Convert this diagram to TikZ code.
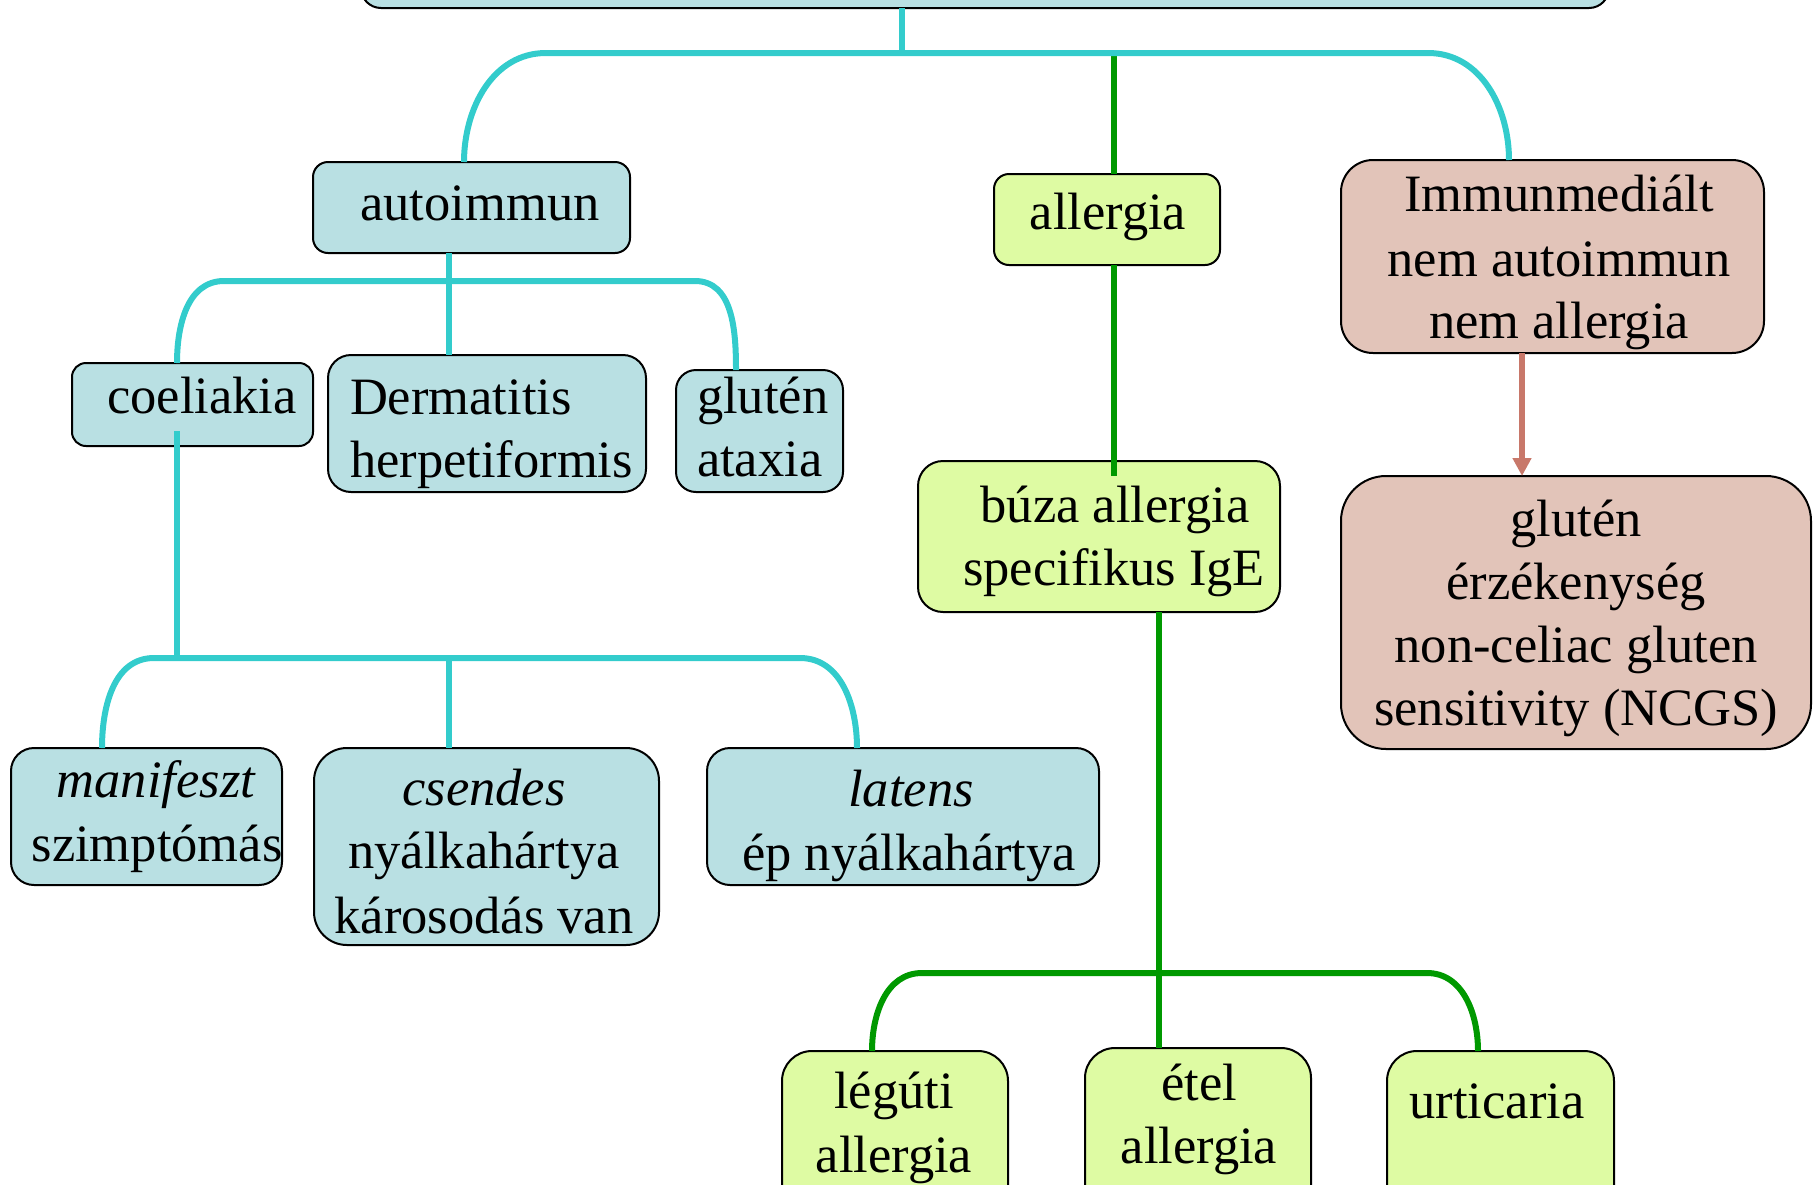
\documentclass[tikz,border=0pt]{standalone}
\usepackage{fontspec}
\setmainfont{Liberation Serif}
\usetikzlibrary{arrows.meta}
\definecolor{tealf}{HTML}{B9E0E3}
\definecolor{greenf}{HTML}{DEFBA3}
\definecolor{pinkf}{HTML}{E2C4B9}
\definecolor{cyl}{HTML}{33CCCC}
\definecolor{grl}{HTML}{009900}
\definecolor{arrc}{HTML}{C8786A}
\newcommand\mybox[7]{%
  \pgfmathsetmacro\cx{(#2+#4)/2}\pgfmathsetmacro\cy{(#3+#5)/2}%
  \pgfmathsetmacro\ww{#4-#2}\pgfmathsetmacro\hh{#5-#3}%
  \node[boxbase,#6,rounded corners=#7pt,minimum width=\ww pt,minimum height=\hh pt] (#1) at (\cx,\cy) {};}
\tikzset{
  boxbase/.style={draw=black,line width=2pt,inner sep=0pt,outer sep=0pt,rectangle},
  tealbox/.style={fill=tealf},
  greenbox/.style={fill=greenf},
  pinkbox/.style={fill=pinkf},
  txt/.style={inner sep=0pt,outer sep=0pt,anchor=base,font=\fontsize{52.5}{63}\selectfont},
  txtl/.style={txt,anchor=base west},
  cy/.style={draw=cyl,line width=6pt},
  gr/.style={draw=grl,line width=6pt},
  arr/.style={draw=arrc,line width=5.5pt,-{Triangle[width=18pt,length=18pt,fill=arrc]}}
}
\begin{document}
\begin{tikzpicture}[x=1pt,y=-1pt]
\useasboundingbox (0,0) rectangle (1820,1184);
\clip (0,0) rectangle (1820,1184);
% boxes
\mybox{top}{361}{-80}{1609}{8}{tealbox}{20}
\mybox{auto}{313}{162}{630}{253}{tealbox}{15}
\mybox{alle}{994}{174}{1220}{265}{greenbox}{15}
\mybox{imm}{1341}{160}{1764}{353}{pinkbox}{32}
\mybox{glut}{1341}{476}{1811}{749}{pinkbox}{45}
\mybox{buza}{918}{461}{1280}{612}{greenbox}{25}
\mybox{coel}{72}{363}{313}{446}{tealbox}{14}
\mybox{derm}{328}{355}{646}{492}{tealbox}{23}
\mybox{atax}{676}{370}{843}{492}{tealbox}{20}
\mybox{mani}{11}{748}{282}{885}{tealbox}{23}
\mybox{csen}{314}{748}{659}{945}{tealbox}{33}
\mybox{late}{707}{748}{1099}{885}{tealbox}{23}
\mybox{legu}{782}{1051}{1008}{1230}{greenbox}{30}
\mybox{etel}{1085}{1048}{1311}{1230}{greenbox}{30}
\mybox{urti}{1387}{1051}{1614}{1230}{greenbox}{30}
% texts
\node[txt] (t1) at (480,220) {autoimmun};
\node[txt] (t2) at (1108,229) {allergia};
\node[txt] (t3a) at (1559,211) {Immunmediált};
\node[txt] (t3b) at (1559,276) {nem autoimmun};
\node[txt] (t3c) at (1559,338) {nem allergia};
\node[txt] (t4a) at (1576,536) {glutén};
\node[txt] (t4b) at (1576,599) {érzékenység};
\node[txt] (t4c) at (1576,662) {non-celiac gluten};
\node[txt] (t4d) at (1576,725) {sensitivity (NCGS)};
\node[txt] (t5a) at (1115,522) {búza allergia};
\node[txt] (t5b) at (1114,585) {specifikus IgE};
\node[txt] (t6) at (202,413) {coeliakia};
\node[txtl] (t7a) at (350,414) {Dermatitis};
\node[txtl] (t7b) at (350,477) {herpetiformis};
\node[txtl] (t8a) at (697,413) {glutén};
\node[txtl] (t8b) at (697,476) {ataxia};
\node[txt] (t9a) at (156,797) {\itshape manifeszt};
\node[txt] (t9b) at (157,861) {szimptómás};
\node[txt] (t10a) at (484,805) {\itshape csendes};
\node[txt] (t10b) at (484,868) {nyálkahártya};
\node[txt] (t10c) at (484,933) {károsodás van};
\node[txt] (t11a) at (911,806) {\itshape latens};
\node[txt] (t11b) at (909,870) {ép nyálkahártya};
\node[txt] (t12a) at (894,1108) {légúti};
\node[txt] (t12b) at (894,1172) {allergia};
\node[txt] (t13a) at (1199,1100) {étel};
\node[txt] (t13b) at (1199,1163) {allergia};
\node[txt] (t14) at (1497,1118) {urticaria};
% junction coordinates
\coordinate (jA) at (902,53);
\coordinate (xa) at (464,0);
\coordinate (xi) at (1509,0);
\coordinate (jAl) at (546,53);
\coordinate (jAr) at (1428,53);
\coordinate (jG) at (1114,53);
\coordinate (gEnd) at (1114,476);
\coordinate (jB) at (449,281);
\coordinate (xc) at (177,0);
\coordinate (xt) at (736,0);
\coordinate (jBl) at (224,281);
\coordinate (jBr) at (695,281);
\coordinate (cStart) at (177,431);
\coordinate (jC) at (177,658);
\coordinate (jCm) at (449,658);
\coordinate (xm) at (102,0);
\coordinate (xl) at (857,0);
\coordinate (jCl) at (154,658);
\coordinate (jCr) at (800,658);
\coordinate (xg) at (1159,0);
\coordinate (xlg) at (872,0);
\coordinate (xur) at (1478,0);
\coordinate (jDl) at (922,973);
\coordinate (jDr) at (1427,973);
\coordinate (xar) at (1522,0);
% green connectors
\draw[gr] (jG) -- (alle.north -| jG);
\draw[gr] (alle.south -| gEnd) -- (gEnd);
\draw[gr] (buza.south -| xg) -- (etel.north -| xg);
\draw[gr] (legu.north -| xlg) to[out=90,in=180] (jDl) -- (jDr) to[out=0,in=90] (urti.north -| xur);
% cyan connectors
\draw[cy] (top.south -| jA) -- (jA);
\draw[cy] (auto.north -| xa) to[out=90,in=180] (jAl) -- (jAr) to[out=0,in=90] (imm.north -| xi);
\draw[cy] (auto.south -| jB) -- (derm.north -| jB);
\draw[cy] (coel.north -| xc) to[out=90,in=180] (jBl) -- (jBr) to[out=0,in=90] (atax.north -| xt);
\draw[cy] (cStart) -- (jC);
\draw[cy] (jCm) -- (csen.north -| jCm);
\draw[cy] (mani.north -| xm) to[out=90,in=180] (jCl) -- (jCr) to[out=0,in=90] (late.north -| xl);
% arrow
\draw[arr] (imm.south -| xar) -- (glut.north -| xar);
\end{tikzpicture}
\end{document}
